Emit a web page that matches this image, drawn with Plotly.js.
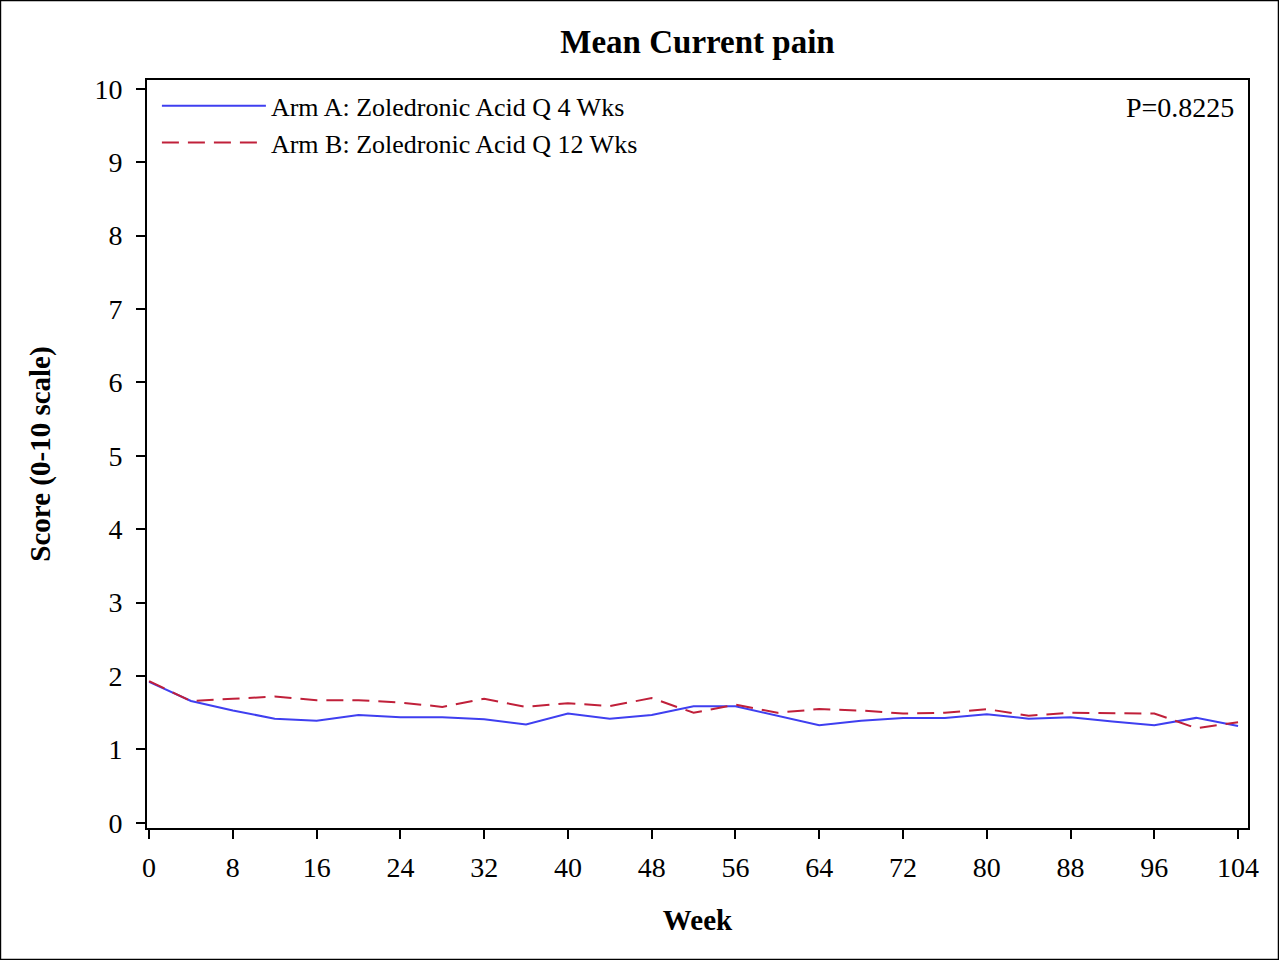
<!DOCTYPE html>
<html><head><meta charset="utf-8">
<script src="https://cdn.plot.ly/plotly-3.0.1.min.js"></script>
<style>body{margin:0;padding:0;background:#fff}#chart{width:1279px;height:960px}</style>
</head><body><div id="chart"></div>
<script>
const weeks = [0,4,8,12,16,20,24,28,32,36,40,44,48,52,56,60,64,68,72,76,80,84,88,92,96,100,104];
const armA = [1.92,1.66,1.53,1.42,1.39,1.47,1.44,1.44,1.41,1.34,1.49,1.42,1.47,1.59,1.59,1.46,1.33,1.39,1.43,1.43,1.48,1.42,1.44,1.38,1.33,1.43,1.32];
const armB = [1.93,1.66,1.69,1.72,1.67,1.67,1.64,1.58,1.69,1.58,1.63,1.59,1.70,1.50,1.61,1.50,1.55,1.53,1.49,1.50,1.55,1.46,1.50,1.50,1.49,1.29,1.37];
const xTicks = [0,8,16,24,32,40,48,56,64,72,80,88,96,104];
const yTicks = [0,1,2,3,4,5,6,7,8,9,10];
const nameA = "Arm A: Zoledronic Acid Q 4 Wks";
const nameB = "Arm B: Zoledronic Acid Q 12 Wks";
const pText = "P=0.8225";

const F = "Liberation Serif, Times New Roman, serif";
const traces = [
  {x: weeks, y: armA, name: nameA, mode: "lines", line: {color: "#3f3ff0", width: 2}},
  {x: weeks, y: armB, name: nameB, mode: "lines", line: {color: "#c0203a", width: 2, dash: "17px,9px"}}
];
const layout = {
  width: 1279, height: 960,
  margin: {l: 147, r: 31, t: 80, b: 132},
  paper_bgcolor: "#fff", plot_bgcolor: "#fff",
  font: {family: F, size: 28, color: "#000"},
  title: {text: "<b>Mean Current pain</b>", x: 0.5, xref: "paper", y: 0.957, yref: "container", yanchor: "middle", font: {family: F, size: 33, color: "#000"}},
  xaxis: {range: [-0.2, 104.95], tickvals: xTicks, ticktext: xTicks.map(String), ticks: "outside", ticklen: 9, tickwidth: 2, tickcolor: "#000",
    ticklabelstandoff: 4,
    showgrid: false, zeroline: false, showline: true, linecolor: "#000", linewidth: 2, mirror: true,
    tickfont: {family: F, size: 28}, title: {text: "<b>Week</b>", font: {family: F, size: 29}, standoff: 28}},
  yaxis: {range: [-0.07, 10.12], tickvals: yTicks, ticks: "outside", ticklen: 9, tickwidth: 2, tickcolor: "#000",
    ticklabelstandoff: 8,
    showgrid: false, zeroline: false, showline: true, linecolor: "#000", linewidth: 2, mirror: true,
    tickfont: {family: F, size: 28}, title: {text: "<b>Score (0-10 scale)</b>", font: {family: F, size: 29}, standoff: 35}},
  showlegend: true,
  legend: {x: 0.009, y: 0.997, xanchor: "left", yanchor: "top", bgcolor: "rgba(0,0,0,0)", font: {family: F, size: 26}, itemwidth: 104, tracegroupgap: 0},
  annotations: [{text: pText, xref: "paper", yref: "paper", x: 0.9895, y: 0.9626, xanchor: "right", yanchor: "middle", showarrow: false, font: {family: F, size: 28}}],
  shapes: [{type: "rect", xref: "paper", yref: "paper", x0: -0.1331, x1: 1.0277, y0: -0.1758, y1: 1.1063, line: {color: "#000", width: 1.5}, fillcolor: "rgba(0,0,0,0)", layer: "below"}]
};
Plotly.newPlot("chart", traces, layout, {displayModeBar: false, staticPlot: true});
</script></body></html>
